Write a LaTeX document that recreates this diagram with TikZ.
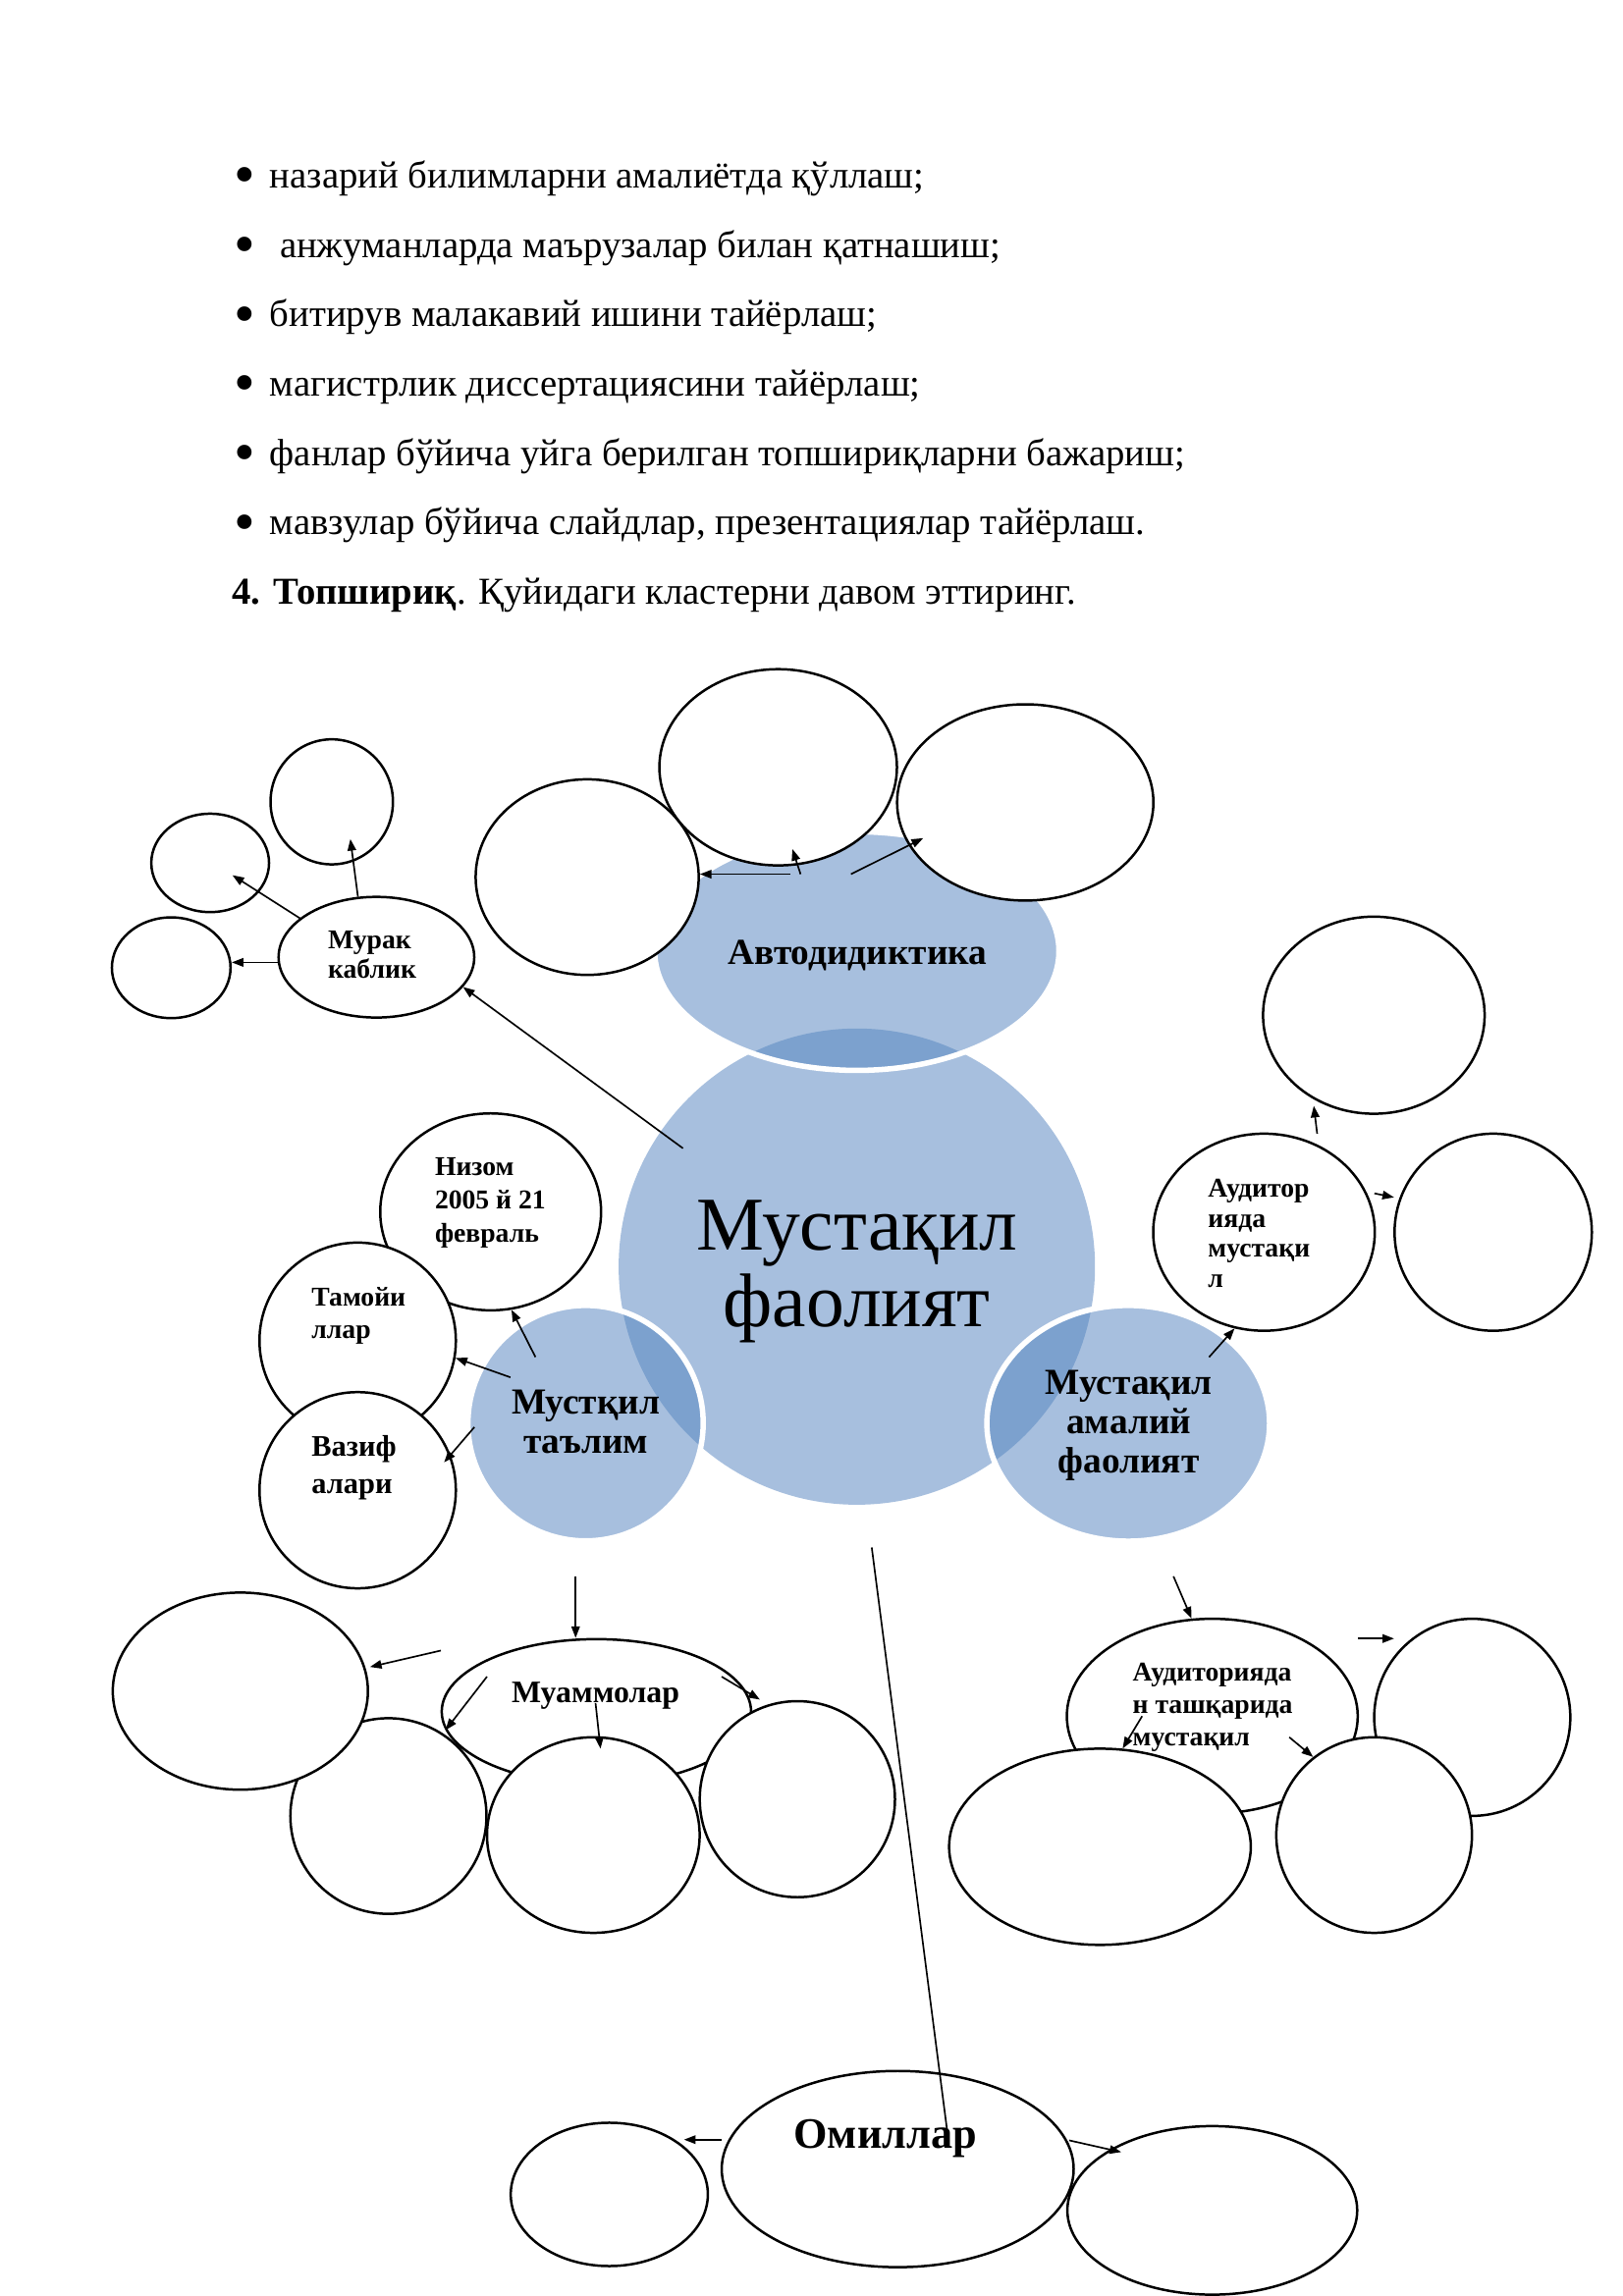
\documentclass[tikz,border=0pt]{standalone}
\usepackage{fontspec}
\setmainfont{Liberation Serif}
\usetikzlibrary{arrows.meta, shapes.geometric}
\newcommand{\pxu}{0.0189531cm}
\newcommand{\belgi}{\makebox[0.46cm][l]{\raisebox{-2.6pt}{\scalebox{1.6}{•}}}}
\definecolor{kokOch}{HTML}{A7BFDE}
\definecolor{kokTuq}{HTML}{7CA1CE}
\tikzset{
  doiraBosh/.style={ellipse, draw=black, line width=0.9pt, fill=white, inner sep=0pt},
  doiraKok/.style={ellipse, fill=kokOch, inner sep=0pt},
  olcham/.style 2 args={minimum width=#1*\pxu, minimum height=#2*\pxu},
  kokChegara/.style={white, line width=2pt},
  strelka/.style={-{Triangle[length=1.5mm, width=1.1mm]}, line width=0.6pt},
  chiziq/.style={line width=0.6pt},
  satr/.style={anchor=base west, inner sep=0pt, font=\fontsize{14}{17}\selectfont},
  matn/.style={inner sep=0pt, font=\bfseries},
  matnKatta/.style={inner sep=0pt, align=center, font=\fontsize{28}{28.3}\selectfont},
  matnKok/.style={inner sep=0pt, align=center, font=\bfseries\fontsize{13.5}{14.45}\selectfont},
  matnKichik/.style={inner sep=0pt, align=left, anchor=west, font=\bfseries\fontsize{10}{#1}\selectfont},
}

\begin{document}
\begin{tikzpicture}[x=\pxu, y=-\pxu]
  \path[use as bounding box, fill=white] (0,0) rectangle (1108,1568);

  % Ro'yxat
  \node[satr] (s1) at (159.6,128.5) {\belgi назарий билимларни амалиётда қўллаш;};
  \node[satr] (s2) at (159.6,175.85) {\belgi\hspace{0.13cm}анжуманларда маърузалар билан қатнашиш;};
  \node[satr] (s3) at (159.6,223.2) {\belgi битирув малакавий ишини тайёрлаш;};
  \node[satr] (s4) at (159.6,270.55) {\belgi магистрлик диссертациясини тайёрлаш;};
  \node[satr] (s5) at (159.6,317.9) {\belgi фанлар бўйича уйга берилган топшириқларни бажариш;};
  \node[satr] (s6) at (159.6,365.25) {\belgi мавзулар бўйича слайдлар, презентациялар тайёрлаш.};
  \node[satr] (s7) at (158,412.6) {\textbf{4. Топшириқ}. Қуйидаги кластерни давом эттиринг.};

  % Kok doiralar
  \node[doiraKok, olcham={325.2}{325.2}] (faoliyat) at (585,865) {};
  \node[doiraKok, olcham={276}{163}] (avtodid) at (585,649.5) {};
  \node[doiraKok, olcham={160.6}{160.8}] (talim) at (399.8,971.9) {};
  \node[doiraKok, olcham={193}{161}] (amaliy) at (770.3,972) {};
  \begin{scope}
    \clip (avtodid.center) ellipse [x radius=138, y radius=81.5];
    \fill[kokTuq] (faoliyat.center) circle [radius=162.6];
  \end{scope}
  \begin{scope}
    \clip (talim.center) ellipse [x radius=80.3, y radius=80.4];
    \fill[kokTuq] (faoliyat.center) circle [radius=162.6];
  \end{scope}
  \begin{scope}
    \clip (amaliy.center) ellipse [x radius=96.5, y radius=80.5];
    \fill[kokTuq] (faoliyat.center) circle [radius=162.6];
  \end{scope}
  \draw[kokChegara] (avtodid.center) ellipse [x radius=138, y radius=81.5];
  \draw[kokChegara] (talim.center) ellipse [x radius=80.3, y radius=80.4];
  \draw[kokChegara] (amaliy.center) ellipse [x radius=96.5, y radius=80.5];

  % Murak kablik
  \node[doiraBosh, olcham={133.6}{82.4}] (murak) at (257,653.7) {};
  \node[doiraBosh, olcham={83.6}{85.4}] (kichik1) at (226.5,547.6) {};
  \node[doiraBosh, olcham={80.4}{67.2}] (kichik2) at (143.5,589.3) {};
  \node[doiraBosh, olcham={81}{68.8}] (kichik3) at (116.9,660.9) {};

  % Avtodidiktika
  \node[doiraBosh, olcham={152.3}{133.6}] (yuqori1) at (400.9,599) {};
  \node[doiraBosh, olcham={162.2}{134}] (yuqori2) at (531.3,524) {};
  \node[doiraBosh, olcham={175}{134}] (yuqori3) at (700,548) {};

  % Auditoriyada
  \node[doiraBosh, olcham={151.3}{134.6}] (auditor) at (863,841.5) {};
  \node[doiraBosh, olcham={151.3}{134.6}] (ongYuqori) at (938,693.3) {};
  \node[doiraBosh, olcham={134.7}{134.6}] (ong1) at (1019.5,841.5) {};

  % Mustqil ta'lim
  \node[doiraBosh, olcham={150.8}{134.5}] (nizom) at (335,827.6) {};
  \node[doiraBosh, olcham={134.1}{134}] (tamoyil) at (244.2,915.6) {};
  \node[doiraBosh, olcham={134.1}{134}] (vazifa) at (244.2,1017.7) {};

  % Muammolar
  \node[doiraBosh, olcham={133.9}{133.6}] (muammo2) at (265.2,1240.2) {};
  \node[doiraBosh, olcham={174.2}{134.6}] (chapKatta) at (164.1,1154.9) {};
  \node[doiraBosh, olcham={211.2}{99}] (muammolar) at (407.2,1168.9) {};
  \node[doiraBosh, olcham={145.2}{133.6}] (muammo3) at (405.1,1253.2) {};
  \node[doiraBosh, olcham={133.3}{133.9}] (muammo4) at (544.4,1228.7) {};

  % Auditoriyadan tashqarida
  \node[doiraBosh, olcham={198.6}{133}] (tashqari) at (827.7,1172) {};
  \node[doiraBosh, olcham={133.9}{134.6}] (ongTepa) at (1005.2,1172.8) {};
  \node[doiraBosh, olcham={206}{134}] (pastChap) at (751,1261.2) {};
  \node[doiraBosh, olcham={133.6}{133.6}] (pastOng) at (938.2,1253.2) {};

  % Omillar
  \node[doiraBosh, olcham={134.6}{97.9}] (omilChap) at (416,1498.6) {};
  \node[doiraBosh, olcham={240.3}{134}] (omillar) at (612.9,1481.3) {};
  \node[doiraBosh, olcham={197.9}{115.1}] (omilOng) at (827.7,1509.5) {};

  % Yozuvlar
  \node[matnKatta] (tFaoliyat) at (585,868.5) {Мустақил\\фаолият};
  \node[matnKok, anchor=base] (tAvtodid) at (585.6,658.7) {Автодидиктика};
  \node[matnKok] (tTalim) at (400,971.3) {Мустқил\\таълим};
  \node[matnKok] (tAmaliy) at (770.7,973.6) {Мустақил\\амалий\\фаолият};
  \node[matnKichik=10.8] (tMurak) at (223.6,651.8) {Мурак\\каблик};
  \node[matnKichik=12.35] (tNizom) at (296.6,821.6) {Низом\\2005 й 21\\февраль};
  \node[matnKichik=12] (tTamoyil) at (212.4,898.4) {Тамойи\\ллар};
  \node[matnKichik=13.85, font=\bfseries\fontsize{11}{13.85}\selectfont] (tVazifa) at (212.4,1002.5) {Вазиф\\алари};
  \node[matnKichik=11.05] (tAuditor) at (824.5,842.2) {Аудитор\\ияда\\мустақи\\л};
  \node[matnKichik=11.75] (tTashqari) at (773,1166) {Аудиторияда\\н ташқарида\\мустақил};
  \node[matn, anchor=base, font=\bfseries\fontsize{11.5}{13}\selectfont] (tMuammo) at (406.6,1163) {Муаммолар};
  \node[matn, anchor=base, font=\bfseries\fontsize{16}{18}\selectfont] (tOmil) at (604.5,1466.8) {Омиллар};

  % Strelkalar
  \coordinate (a1) at (466.3,784.2);
  \draw[strelka] (a1) -- (murak.-19);
  \coordinate (k1) at (239.2,573); \coordinate (k2) at (158.7,597.7);
  \draw[strelka] (murak.107) -- (k1);
  \draw[strelka] (murak.153) -- (k2);
  \draw[strelka] (murak.183) -- (murak.183 -| kichik3.east);

  \coordinate (y1) at (539.6,597);
  \coordinate (y2a) at (546.6,597); \coordinate (y2b) at (541,579.8);
  \coordinate (y3a) at (581,597); \coordinate (y3b) at (630.3,572.4);
  \draw[strelka] (y1) -- (y1 -| yuqori1.east);
  \draw[strelka] (y2a) -- (y2b);
  \draw[strelka] (y3a) -- (y3b);

  \coordinate (r1) at (825.5,926.8);
  \coordinate (r2a) at (899.3,774.2); \coordinate (r2b) at (897,755.2);
  \coordinate (r3a) at (938.4,815); \coordinate (r3b) at (951.8,817.7);
  \draw[strelka] (r1) -- (auditor.253);
  \draw[strelka] (r2a) -- (r2b);
  \draw[strelka] (r3a) -- (r3b);

  \coordinate (t1) at (365.6,926.8); \coordinate (t2) at (348.5,940.6);
  \coordinate (t3a) at (323.9,974.6); \coordinate (t3b) at (303.2,998.7);
  \draw[strelka] (t1) -- (nizom.-78);
  \draw[strelka] (t2) -- (tamoyil.-10);
  \draw[strelka] (t3a) -- (t3b);

  \coordinate (m0) at (393,1076.5); \coordinate (m2) at (332.5,1145);
  \coordinate (m1a) at (301,1127.2); \coordinate (m1b) at (252.6,1138.4);
  \coordinate (m3a) at (492.7,1145); \coordinate (m3b) at (518.8,1160.7);
  \coordinate (m4a) at (406.6,1163); \coordinate (m4b) at (410,1194.2);
  \draw[strelka] (m0) -- (m0 |- muammolar.north);
  \draw[strelka] (m1a) -- (m1b);
  \draw[strelka] (m2) -- (muammolar.187);
  \draw[strelka] (m3a) -- (m3b);
  \draw[strelka] (m4a) -- (m4b);

  \coordinate (d0) at (801.2,1076.5); \coordinate (d2) at (779.8,1172);
  \coordinate (d1a) at (927.2,1119); \coordinate (d1b) at (951.8,1119);
  \coordinate (d3) at (880.3,1186.4);
  \draw[strelka] (d0) -- (tashqari.102);
  \draw[strelka] (d1a) -- (d1b);
  \draw[strelka] (d2) -- (pastChap.77);
  \draw[strelka] (d3) -- (pastOng.128);

  \coordinate (o0a) at (595.2,1056.8); \coordinate (o0b) at (646.6,1454.5);
  \coordinate (o1a) at (492.7,1461.2); \coordinate (o1b) at (467,1461.2);
  \coordinate (o2a) at (730,1461.7); \coordinate (o2b) at (765.5,1469.7);
  \draw[chiziq] (o0a) -- (o0b);
  \draw[strelka] (o1a) -- (o1b);
  \draw[strelka] (o2a) -- (o2b);
\end{tikzpicture}
\end{document}
